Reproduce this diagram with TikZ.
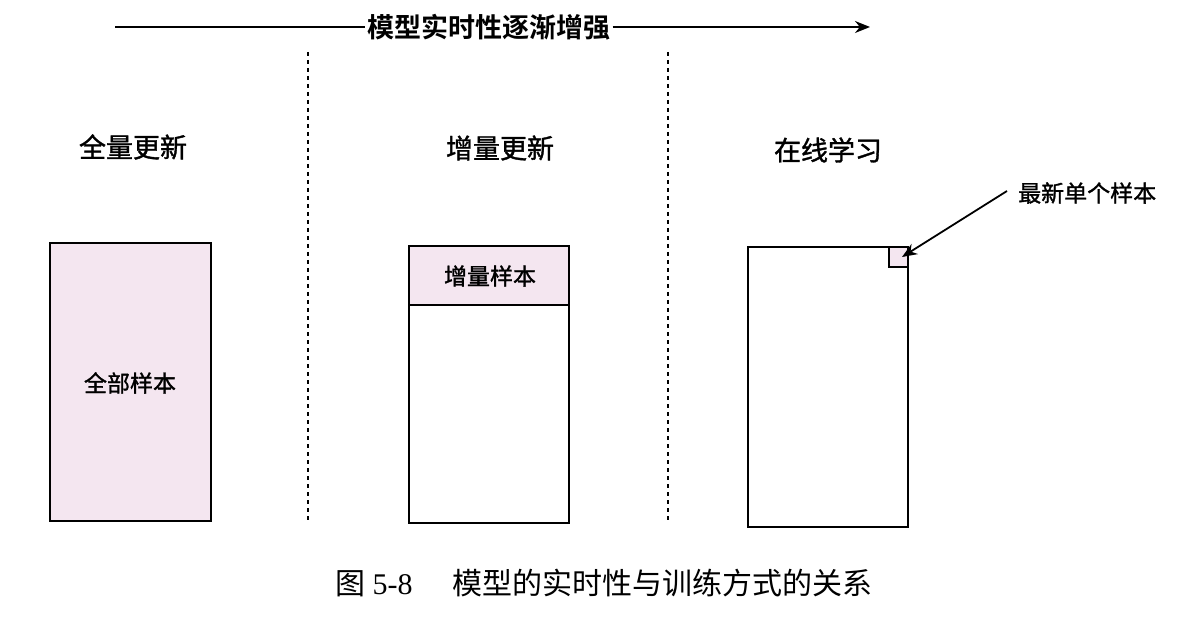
\documentclass[tikz,border=0pt]{standalone}
\usepackage{fontspec}
\setmainfont{Liberation Serif}
\newfontfamily\cjk{Noto Sans CJK SC}
\newfontfamily\cjkm[FakeBold=1.3]{Noto Sans CJK SC}
\newfontfamily\cjkb{Noto Sans CJK SC Bold}
\usetikzlibrary{arrows.meta}
\definecolor{pinkfill}{RGB}{244,230,240}
\tikzset{
  box/.style={draw=black, line width=2.2pt},
  sep/.style={draw=black, line width=1.4pt, dash pattern=on 4pt off 4pt},
  head/.style={font=\cjkm\fontsize{27}{30}\selectfont, inner sep=0pt},
  lbl/.style={font=\cjkm\fontsize{23}{26}\selectfont, inner sep=0pt},
  arr/.style={line width=2pt, -{Stealth[length=15pt,width=12pt]}},
}
\begin{document}
\begin{tikzpicture}[x=1pt,y=-1pt]
\useasboundingbox (0,0) rectangle (1204,628);
% top arrow
\node[inner sep=2pt, font=\cjkb\fontsize{27}{30}\selectfont] (title) at (489,27) {模型实时性逐渐增强};
\coordinate (tl) at (115,27);
\coordinate (tr) at (870,27);
\draw[line width=2pt] (tl) -- (title.west);
\draw[arr] (title.east) -- (tr);
% separators
\coordinate (s1t) at (308,52); \coordinate (s1b) at (308,522);
\coordinate (s2t) at (668,52); \coordinate (s2b) at (668,522);
\draw[sep] (s1t) -- (s1b);
\draw[sep] (s2t) -- (s2b);
% headings
\node[head] (h1) at (133,147) {全量更新};
\node[head] (h2) at (500,148) {增量更新};
\node[head] (h3) at (828,150) {在线学习};
% box 1
\draw[box, fill=pinkfill] (50,243) rectangle (211,521);
\node[lbl] (all) at (130,383) {全部样本};
% box 2
\draw[box, fill=pinkfill] (409,246) rectangle (569,305);
\draw[box] (409,246) rectangle (569,523);
\node[lbl] (inc) at (490,276) {增量样本};
% box 3
\draw[box] (748,247) rectangle (908,527);
\draw[line width=1.6pt, fill=pinkfill] (889,247) rectangle (908,267);
\coordinate (corner) at (902,257);
\node[lbl, anchor=west] (newest) at (1018,193) {最新单个样本};
\draw[arr, line width=1.8pt] (1007,191) -- (corner);
% caption
\node[inner sep=0pt, font=\fontsize{30}{32}\selectfont, anchor=west] (cap) at (335,583) {{\cjk 图} 5-8\hspace{40pt}{\cjk 模型的实时性与训练方式的关系}};
\end{tikzpicture}
\end{document}
